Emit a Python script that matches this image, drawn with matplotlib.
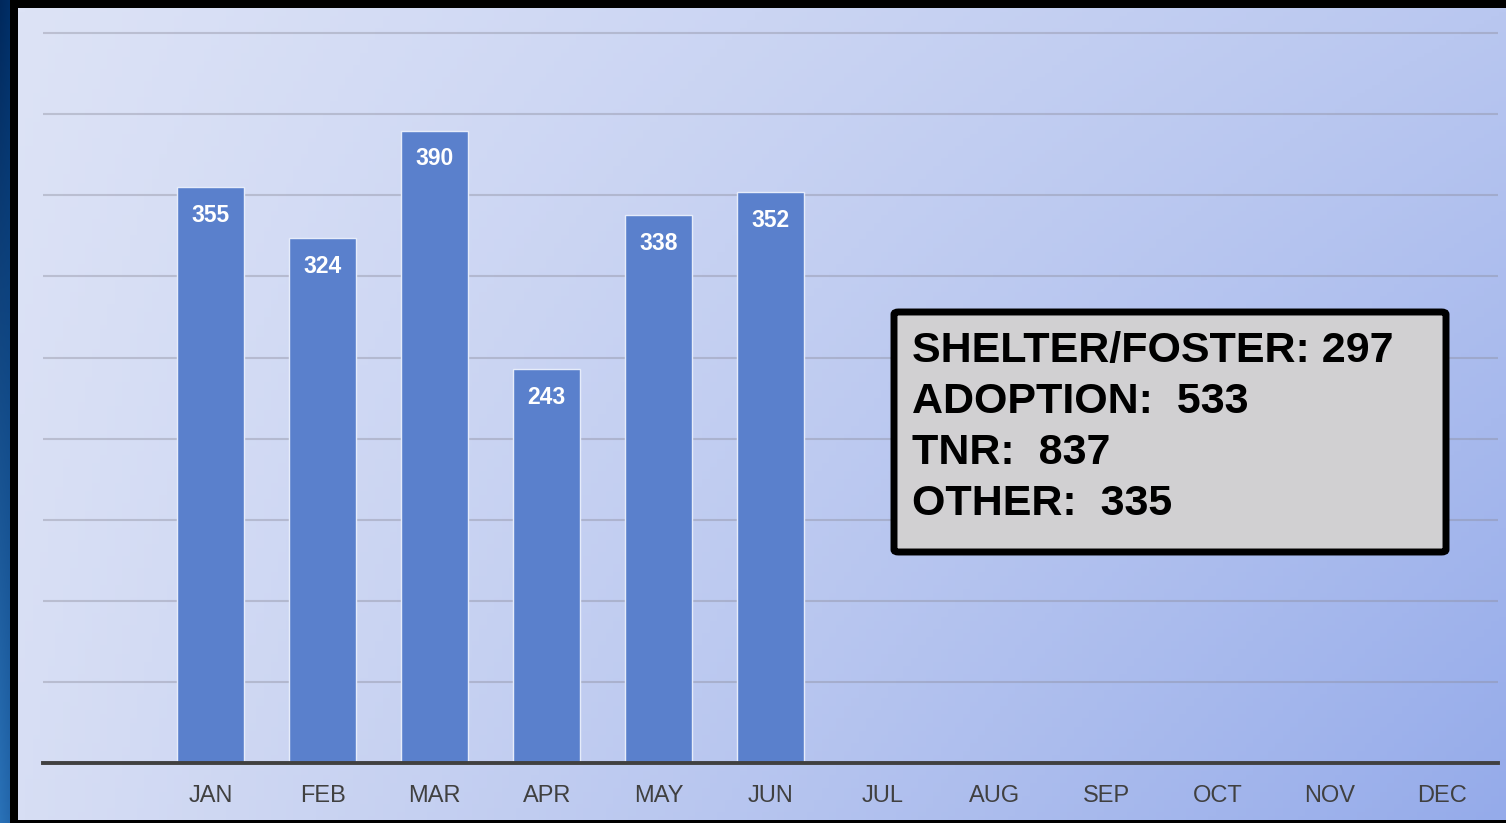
import numpy as np
import matplotlib
matplotlib.use('Agg')
from matplotlib import pyplot as plt
from matplotlib.patches import FancyBboxPatch

# data
months = ['JAN', 'FEB', 'MAR', 'APR', 'MAY', 'JUN',
          'JUL', 'AUG', 'SEP', 'OCT', 'NOV', 'DEC']
counts = [355, 324, 390, 243, 338, 352]
grid_values = [50, 100, 150, 200, 250, 300, 350, 400, 450]
summary_lines = ['SHELTER/FOSTER: 297',
                 'ADOPTION:  533',
                 'TNR:  837',
                 'OTHER:  335']

W, H = 1506, 823
plt.rcParams['font.family'] = ['Liberation Sans', 'DejaVu Sans']

fig = plt.figure(figsize=(W / 100, H / 100), dpi=100, facecolor='black')


def fx(px):
    return px / W


def fy(py):
    # pixel rows count from the top
    return 1 - py / H


def corner_gradient(tl, tr, bl, br, n=200):
    tl, tr, bl, br = [np.array(matplotlib.colors.to_rgb(c)) for c in (tl, tr, bl, br)]
    u = np.linspace(0, 1, n)[None, :, None]
    v = np.linspace(0, 1, n)[:, None, None]
    top = tl * (1 - u) + tr * u
    bot = bl * (1 - u) + br * u
    return top * (1 - v) + bot * v


# dark blue strip at the far left
strip = fig.add_axes([0, 0, fx(10), 1])
strip.imshow(corner_gradient('#00285c', '#002e66', '#2a72b8', '#2468ad'),
             aspect='auto', extent=[0, 1, 0, 1])
strip.axis('off')

# slide background with a soft gradient
bg = fig.add_axes([fx(18), fy(820), fx(W - 18), fy(8) - fy(820)])
bg.imshow(corner_gradient('#dde3f6', '#b9c7f0', '#d7def4', '#95abea'),
          aspect='auto', extent=[0, 1, 0, 1])
bg.axis('off')

# main chart axes
base_y = 763
top_val = 460
ax = fig.add_axes([fx(43), fy(base_y), fx(1455), (fy(17) - fy(base_y))])
ax.set_facecolor('none')

x = np.arange(len(months))
for g in grid_values:
    ax.axhline(g, color='#8c8c9c', alpha=0.4, lw=1.5, zorder=1)

bars = ax.bar(x[:len(counts)], counts, width=0.6, color='#5a80cc',
              edgecolor='#e6ecfa', linewidth=1.0, zorder=2)

for xi, v in zip(x, counts):
    ax.annotate(str(v), (xi, v), xytext=(0, -20.5), textcoords='offset points',
                ha='center', va='center', color='white', fontsize=16.5,
                fontweight='bold', zorder=3)

ax.set_xlim(-1.5, 11.5)
ax.set_ylim(0, top_val)
ax.set_xticks(x)
ax.set_xticklabels(months, fontsize=17, color='#404040')
ax.tick_params(axis='x', length=0, pad=16)
ax.set_yticks([])
for side in ['top', 'right', 'left']:
    ax.spines[side].set_visible(False)
ax.spines['bottom'].set_color('#404040')
ax.spines['bottom'].set_linewidth(2.8)

# summary box
box = FancyBboxPatch((fx(894), fy(552)), fx(1446) - fx(894), fy(312) - fy(552),
                     boxstyle='round,pad=0,rounding_size=0.003',
                     transform=fig.transFigure, facecolor='#d1d0d2',
                     edgecolor='black', linewidth=5.0, zorder=5)
fig.add_artist(box)

baselines = [362, 413, 464, 515]
for line, by in zip(summary_lines, baselines):
    fig.text(fx(912), fy(by), line, ha='left', va='baseline', fontsize=31,
             fontweight='bold', color='black', zorder=6)

fig.savefig('out.png', dpi=100, facecolor=fig.get_facecolor())
